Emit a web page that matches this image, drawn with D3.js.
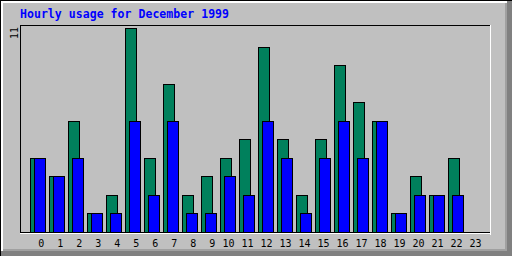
<!DOCTYPE html>
<html>
<head>
<meta charset="utf-8">
<script src="https://cdn.jsdelivr.net/npm/d3@7"></script>
<style>
  html, body { margin: 0; padding: 0; background: #c0c0c0; }
  svg { display: block; }
</style>
</head>
<body>
<div id="container"></div>
<script>
const WIDTH = 512;
const HEIGHT = 256;

const TITLE = 'Hourly usage for December 1999';
const hours = d3.range(24);
const hourLabels = hours.map(String);
// hits (green) and files (blue) per hour
const hits  = [4, 3, 6, 1, 2, 11, 4, 8, 2, 3, 4, 5, 10, 5, 2, 5, 9, 7, 6, 1, 3, 2, 4, 0];
const files = [4, 3, 4, 1, 1, 6, 2, 6, 1, 1, 3, 2, 6, 4, 1, 4, 6, 4, 6, 1, 2, 2, 2, 0];
const yMax = 11;
const yTicks = [yMax];

const svg = d3.select('#container')
  .append('svg')
  .attr('width', WIDTH)
  .attr('height', HEIGHT);

// background and bevelled frame
svg.append('rect')
  .attr('width', WIDTH)
  .attr('height', HEIGHT)
  .style('fill', '#c0c0c0');

svg.append('rect').attr('x', 505).attr('y', 0).attr('width', 2).attr('height', 256).style('fill', '#a0a0a0');
svg.append('rect').attr('x', 0).attr('y', 249).attr('width', 507).attr('height', 2).style('fill', '#a0a0a0');
svg.append('rect').attr('x', 507).attr('y', 0).attr('width', 5).attr('height', 256).style('fill', '#808080');
svg.append('rect').attr('x', 0).attr('y', 251).attr('width', 512).attr('height', 5).style('fill', '#808080');
svg.append('rect').attr('x', 1).attr('y', 1).attr('width', 506).attr('height', 2).style('fill', 'white');
svg.append('rect').attr('x', 1).attr('y', 1).attr('width', 2).attr('height', 250).style('fill', 'white');
svg.append('rect').attr('x', 0).attr('y', 0).attr('width', 512).attr('height', 1).style('fill', 'black');
svg.append('rect').attr('x', 0).attr('y', 0).attr('width', 1).attr('height', 256).style('fill', 'black');

// title
svg.append('text')
  .attr('x', 20)
  .attr('y', 18)
  .attr('textLength', 209)
  .attr('lengthAdjust', 'spacing')
  .style('font-family', '"DejaVu Sans Mono", monospace')
  .style('font-size', '11.5px')
  .style('font-weight', 'bold')
  .style('fill', '#0000ff')
  .text(TITLE);

// scales
const x = d3.scaleBand()
  .domain(hours)
  .range([30, 30 + 19 * 24])
  .paddingInner(0)
  .paddingOuter(0);

const y = d3.scaleLinear()
  .domain([0, yMax])
  .range([232, 28.5]);

// plot box: dark top/left, light bottom/right
const box = svg.append('g');
box.append('line').attr('x1', 20).attr('y1', 25.5).attr('x2', 491).attr('y2', 25.5).style('stroke', 'black');
box.append('line').attr('x1', 20.5).attr('y1', 25).attr('x2', 20.5).attr('y2', 233).style('stroke', 'black');
box.append('line').attr('x1', 490.5).attr('y1', 25).attr('x2', 490.5).attr('y2', 235).style('stroke', 'white');
box.append('line').attr('x1', 20).attr('y1', 233.5).attr('x2', 491).attr('y2', 233.5).style('stroke', 'white');
box.append('line').attr('x1', 20).attr('y1', 232.5).attr('x2', 490).attr('y2', 232.5).style('stroke', 'black');

// bars
const bars = svg.append('g');

function drawSeries(values, offset, colour) {
  bars.selectAll(null)
    .data(values.map((v, i) => ({ hour: hours[i], v })).filter(d => d.v > 0))
    .enter()
    .append('rect')
    .attr('x', d => x(d.hour) + offset + 0.5)
    .attr('y', d => Math.floor(y(d.v)) + 0.5)
    .attr('width', 11)
    .attr('height', d => y(0) - Math.floor(y(d.v)))
    .style('fill', colour)
    .style('stroke', 'black')
    .style('stroke-width', 1);
}

drawSeries(hits, 0, '#00805c');
drawSeries(files, 4, '#0000ff');

// x labels
svg.append('g')
  .selectAll('text')
  .data(hours)
  .enter()
  .append('text')
  .attr('x', d => x(d) + (hourLabels[d].length > 1 ? 8.5 : 11.2))
  .attr('y', 247)
  .attr('text-anchor', 'middle')
  .style('font-family', '"DejaVu Sans Mono", monospace')
  .style('font-size', '10px')
  .style('fill', 'black')
  .text(d => hourLabels[d]);

// y label (max value only)
svg.append('g')
  .selectAll('text')
  .data(yTicks)
  .enter()
  .append('text')
  .attr('transform', d => `translate(17.5, ${y(d) + 4.5}) rotate(-90)`)
  .attr('text-anchor', 'middle')
  .style('font-family', '"DejaVu Sans Mono", monospace')
  .style('font-size', '10px')
  .style('fill', 'black')
  .text(d => d);
</script>
</body>
</html>
